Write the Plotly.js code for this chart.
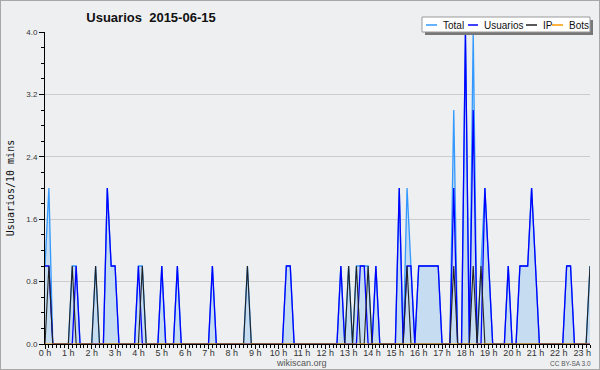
<!DOCTYPE html>
<html>
<head>
<meta charset="utf-8">
<script src="https://cdn.plot.ly/plotly-3.0.1.min.js"></script>
<style>
html,body{margin:0;padding:0;background:#eeeff1;}
#wrap{position:relative;width:600px;height:370px;}
#chart{width:600px;height:370px;}
#frame{position:absolute;left:0;top:0;width:600px;height:370px;box-sizing:border-box;border:1px solid #a8a8a8;pointer-events:none;}
</style>
</head>
<body>
<div id="wrap"><div id="chart"></div><div id="frame"></div></div>
<script>
// 10-minute slots, 0 = 00:00 ... 140 = 23:20
const usuarios = [
 1,1,0,0,0,0,0,0,1,0, 0,0,0,0,0,0,2,1,1,0,
 0,0,0,0,1,0,0,0,0,0, 1,0,0,0,1,0,0,0,0,0,
 0,0,0,1,0,0,0,0,0,0, 0,0,0,0,0,0,0,0,0,0,
 0,0,1,1,0,0,0,0,0,0, 0,0,0,0,0,0,1,0,0,0,
 0,1,1,0,0,1,0,0,0,0, 0,2,0,1,1,0,1,1,1,1,
 1,1,0,0,0,2,0,0,4,0, 3,0,0,2,1,0,0,0,0,1,
 0,0,1,1,1,2,1,0,0,0, 0,0,0,0,1,1,0,0,0,0,
 0
];
const ip = [
 0,1,0,0,0,0,0,1,0,0, 0,0,0,1,0,0,0,0,0,0,
 0,0,0,0,0,1,0,0,0,0, 0,0,0,0,0,0,0,0,0,0,
 0,0,0,0,0,0,0,0,0,0, 0,0,1,0,0,0,0,0,0,0,
 0,0,0,0,0,0,0,0,0,0, 0,0,0,0,0,0,0,0,1,0,
 1,0,0,1,0,0,0,0,0,0, 0,0,0,1,0,0,0,0,0,0,
 0,0,0,0,0,1,0,0,0,0, 1,0,1,0,0,0,0,0,0,0,
 0,0,0,0,0,0,0,0,0,0, 0,0,0,0,0,0,0,0,0,0,
 1
];
const bots = [
 0,0,0,0,0,0,0,0,0,0, 0,0,0,0,0,0,0,0,0,0,
 0,0,0,0,0,0,0,0,0,0, 0,0,0,0,0,0,0,0,0,0,
 0,0,0,0,0,0,0,0,0,0, 0,0,0,0,0,0,0,0,0,0,
 0,0,0,0,0,0,0,0,0,0, 0,0,0,0,0,0,0,0,0,0,
 0,0,0,0,0,0,0,0,0,0, 0,0,0,0,0,0,0,0,0,0,
 0,0,0,0,0,0,0,0,0,0, 0,0,0,0,0,0,0,0,0,0,
 0,0,0,0,0,0,0,0,0,0, 0,0,0,0,0,0,0,0,0,0,
 0
];
const total = [
 1,2,0,0,0,0,0,1,1,0, 0,0,0,1,0,0,2,1,1,0,
 0,0,0,0,1,1,0,0,0,0, 1,0,0,0,1,0,0,0,0,0,
 0,0,0,1,0,0,0,0,0,0, 0,0,1,0,0,0,0,0,0,0,
 0,0,1,1,0,0,0,0,0,0, 0,0,0,0,0,0,1,0,1,0,
 1,1,1,1,0,1,0,0,0,0, 0,2,0,2,1,0,1,1,1,1,
 1,1,0,0,0,3,0,0,4,0, 4,0,1,2,1,0,0,0,0,1,
 0,0,1,1,1,2,1,0,0,0, 0,0,0,0,1,1,0,0,0,0,
 1
];
const slots = total.map((_, i) => i);
const hourTicks = [0,6,12,18,24,30,36,42,48,54,60,66,72,78,84,90,96,102,108,114,120,126,132,138];
const hourLabels = ["0 h","1 h","2 h","3 h","4 h","5 h","6 h","7 h","8 h","9 h","10 h","11 h","12 h","13 h","14 h","15 h","16 h","17 h","18 h","19 h","20 h","21 h","22 h","23 h"];
const yTicks = [0,0.8,1.6,2.4,3.2,4.0];
const yLabels = ["0.0","0.8","1.6","2.4","3.2","4.0"];
const seriesNames = ["Total","Usuarios","IP","Bots"];
const seriesColors = ["#3399ff","#0000ff","#222222","#ff9900"];

// plot area in pixels: left 45, right 590, top 32, bottom 344
const L=45, R=590, T=32, B=344;
const px = x => (x - L) / (R - L);
const py = y => (B - y) / (B - T);

const traces = [
  {x: slots, y: total, name: seriesNames[0], type:'scatter', mode:'lines', fill:'tozeroy',
   fillcolor:'#c6dcf0', line:{color:seriesColors[0], width:1.3}},
  {x: slots, y: usuarios, name: seriesNames[1], type:'scatter', mode:'lines', line:{color:seriesColors[1], width:1.3}},
  {x: slots, y: ip, name: seriesNames[2], type:'scatter', mode:'lines', line:{color:seriesColors[2], width:1.1}},
  {x: slots, y: bots, name: seriesNames[3], type:'scatter', mode:'lines', line:{color:seriesColors[3], width:1}}
];

// manual legend (box + shadow + samples + labels)
const legendItems = [
  {x0:426, x1:437, tx:441},
  {x0:468, x1:478, tx:482},
  {x0:526, x1:537, tx:541},
  {x0:552, x1:563, tx:567}
];
const ly = 25;
const legFont = {family:'Liberation Sans, Arial', size:10, color:'#111'};
const shapes = [
  {type:'rect', xref:'paper', yref:'paper', x0:px(425), x1:px(593), y0:py(20), y1:py(35), fillcolor:'#777777', line:{width:0}, layer:'above'},
  {type:'rect', xref:'paper', yref:'paper', x0:px(422), x1:px(590), y0:py(17), y1:py(32), fillcolor:'#ffffff', line:{color:'#999999', width:1}, layer:'above'}
];
const annotations = [
  {text:'wikiscan.org', xref:'paper', yref:'paper', x:px(301), y:py(363), showarrow:false, font:{family:'Liberation Sans, Arial', size:9, color:'#555'}, xanchor:'center', yanchor:'middle'},
  {text:'CC BY-SA 3.0', xref:'paper', yref:'paper', x:px(570), y:py(363), showarrow:false, font:{family:'Liberation Sans, Arial', size:6.5, color:'#555'}, xanchor:'center', yanchor:'middle'}
];
legendItems.forEach((it, k) => {
  shapes.push({type:'line', xref:'paper', yref:'paper', x0:px(it.x0), x1:px(it.x1), y0:py(ly), y1:py(ly), line:{color:seriesColors[k], width:1.5}, layer:'above'});
  annotations.push({text:seriesNames[k], xref:'paper', yref:'paper', x:px(it.tx), y:py(ly), showarrow:false, xanchor:'left', yanchor:'middle', font:legFont});
});

const layout = {
  width:600, height:370,
  margin:{l:L, r:600-R, t:T, b:370-B, pad:0},
  paper_bgcolor:'#eeeff1', plot_bgcolor:'#eeeff1',
  showlegend:false,
  title:{text:'Usuarios\u00a0 2015-06-15', x:151/600, xref:'container', xanchor:'center', y:1-17/370, yref:'container', yanchor:'middle',
    font:{family:'Liberation Sans, Arial', size:13, weight:'bold', color:'#111'}},
  xaxis:{range:[0,140], tickmode:'array', tickvals:hourTicks, ticktext:hourLabels, showgrid:false, zeroline:false,
    showline:true, linecolor:'#000', linewidth:1, ticks:'outside', ticklen:4, tickcolor:'#000',
    tickfont:{family:'Liberation Sans, Arial', size:9, color:'#333'}, ticklabelstandoff:-4,
    minor:{tickmode:'linear', tick0:0, dtick:1, ticks:'outside', ticklen:3, tickcolor:'#000', showgrid:false},
    fixedrange:true},
  yaxis:{range:[0,4], tickmode:'array', tickvals:yTicks, ticktext:yLabels, showgrid:true, gridcolor:'#cccccc', gridwidth:1, zeroline:false,
    showline:true, linecolor:'#000', linewidth:1, ticks:'outside', ticklen:5, tickcolor:'#000',
    tickfont:{family:'Liberation Sans, Arial', size:8, color:'#333'},
    minor:{tickmode:'linear', tick0:0, dtick:0.2, ticks:'outside', ticklen:3, tickcolor:'#000', showgrid:false},
    title:{text:'Usuarios/10 mins', font:{family:'DejaVu Sans Mono, monospace', size:10, color:'#111'}, standoff:9},
    fixedrange:true},
  shapes:shapes,
  annotations:annotations
};
Plotly.newPlot('chart', traces, layout, {displayModeBar:false, staticPlot:true});
</script>
</body>
</html>
